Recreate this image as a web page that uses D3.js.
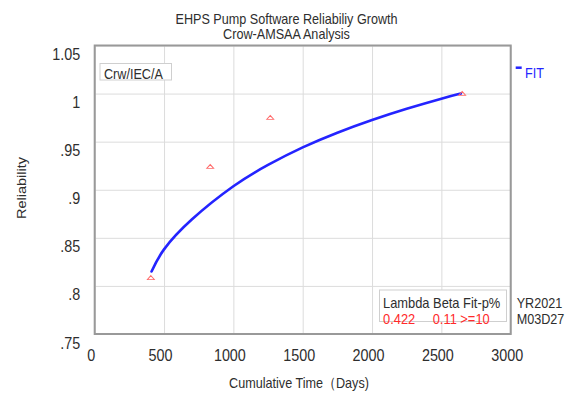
<!DOCTYPE html>
<html>
<head>
<meta charset="utf-8">
<script src="https://cdn.jsdelivr.net/npm/d3@7"></script>
<style>
  html, body { margin: 0; padding: 0; background: #fff; }
  svg { display: block; }
  text { font-family: "Liberation Sans", Arial, sans-serif; fill: #2e2e2e; }
</style>
</head>
<body>
<svg id="chart" width="574" height="395"></svg>
<script>
// ---- data ----
const titleLines = ["EHPS Pump Software Reliabiliy Growth", "Crow-AMSAA Analysis"];
const xTicks = [0, 500, 1000, 1500, 2000, 2500, 3000];
const xTickLabels = ["0", "500", "1000", "1500", "2000", "2500", "3000"];
const yTicks = [0.75, 0.8, 0.85, 0.9, 0.95, 1.0, 1.05];
const yTickLabels = [".75", ".8", ".85", ".9", ".95", "1", "1.05"];
const xTitle = "Cumulative Time（Days)";
const yTitle = "Reliability";
const fitTime = [410, 500, 700, 1000, 1250, 1500, 1750, 2000, 2250, 2500, 2640];
const fitRel  = [0.815, 0.838, 0.869, 0.9036, 0.9258, 0.944, 0.9593, 0.9725, 0.9842, 0.9947, 1.0];
const obsTime = [405, 833, 1266, 2650];
const obsRel  = [0.808, 0.9235, 0.9745, 0.9995];
const methodLabel = "Crw/IEC/A";
const legendLabel = "FIT";
const statHeader = "Lambda Beta Fit-p%";
const statValues = ["0.422", "0.11 >=10"];
const stampLines = ["YR2021", "M03D27"];

// ---- layout ----
const K = 0.87; // horizontal text compression
const L = 94.7, R = 510.7, T = 45.5, B = 334;
const svg = d3.select("#chart");
const x = d3.scaleLinear().domain([0, 3000]).range([L, R]);
const y = d3.scaleLinear().domain([0.75, 1.05]).range([B, T]);

function txt(g, px, py, s, size, anchor, color) {
  return g.append("text")
    .attr("transform", `translate(${px},${py}) scale(${K},1)`)
    .attr("text-anchor", anchor || "start")
    .style("font-size", size + "px")
    .style("fill", color || "#2e2e2e")
    .text(s);
}

// title
txt(svg, 286.5, 23.5, titleLines[0], 14.5, "middle");
txt(svg, 286.5, 38.5, titleLines[1], 14.5, "middle");

// gridlines
const grid = svg.append("g");
grid.append("g").attr("transform", `translate(0,${B})`)
  .call(d3.axisBottom(x).tickValues(xTicks).tickSize(-(B - T)).tickFormat(""))
  .call(g => g.select(".domain").remove())
  .call(g => g.selectAll("line").attr("stroke", "#dcdcdc").attr("stroke-width", 1));
grid.append("g").attr("transform", `translate(${L},0)`)
  .call(d3.axisLeft(y).tickValues(yTicks).tickSize(-(R - L)).tickFormat(""))
  .call(g => g.select(".domain").remove())
  .call(g => g.selectAll("line").attr("stroke", "#dcdcdc").attr("stroke-width", 1));

// axis tick labels
svg.append("g").attr("transform", `translate(0,${B})`)
  .call(d3.axisBottom(x).tickValues(xTicks).tickSize(0).tickFormat((d, i) => xTickLabels[i]))
  .call(g => g.select(".domain").remove())
  .call(g => g.selectAll("text")
    .attr("y", 0).attr("dy", null)
    .attr("transform", `translate(-4,27) scale(${K},1)`)
    .style("font-size", "16.5px").style("fill", "#2e2e2e").style("font-family", "'Liberation Sans', Arial, sans-serif"));
svg.append("g").attr("transform", `translate(${L},0)`)
  .call(d3.axisLeft(y).tickValues(yTicks).tickSize(0).tickFormat((d, i) => yTickLabels[i]))
  .call(g => g.select(".domain").remove())
  .call(g => g.selectAll("text")
    .attr("x", 0).attr("dy", null)
    .attr("transform", `translate(-14.5,14) scale(${K},1)`)
    .style("font-size", "16.5px").style("fill", "#2e2e2e").style("font-family", "'Liberation Sans', Arial, sans-serif"));

// axis titles
txt(svg, 299, 388, xTitle, 14.5, "middle");
svg.append("text")
  .attr("transform", `translate(25.5,188) rotate(-90) scale(1,${K})`)
  .attr("text-anchor", "middle")
  .style("font-size", "14.5px")
  .text(yTitle);

// frame
svg.append("rect").attr("x", L).attr("y", T).attr("width", R - L).attr("height", B - T)
  .attr("fill", "none").attr("stroke", "#999").attr("stroke-width", 2);

// method box
svg.append("rect").attr("x", 100).attr("y", 63.5).attr("width", 71.5).attr("height", 16.5)
  .attr("fill", "#fff").attr("stroke", "#cfcfcf").attr("stroke-width", 1);
txt(svg, 104, 79, methodLabel, 14.5, "start");

// fit curve
const fitData = fitTime.map((t, i) => [t, fitRel[i]]);
svg.append("path").datum(fitData)
  .attr("fill", "none").attr("stroke", "#2424ff").attr("stroke-width", 2.6)
  .attr("stroke-linecap", "round")
  .attr("d", d3.line().x(d => x(d[0])).y(d => y(d[1])).curve(d3.curveNatural));

// observed points (red triangles)
const tri = d3.symbol().type(d3.symbolTriangle).size(16);
svg.append("g").selectAll("path").data(obsTime.map((t, i) => [t, obsRel[i]])).join("path")
  .attr("transform", d => `translate(${x(d[0])},${y(d[1])}) scale(1.15,0.75)`)
  .attr("d", tri)
  .attr("fill", "none").attr("stroke", "#ff6a6a").attr("stroke-width", 1);

// legend
svg.append("line").attr("x1", 515.7).attr("x2", 521.7).attr("y1", 67.7).attr("y2", 67.7)
  .attr("stroke", "#2424ff").attr("stroke-width", 2.5);
txt(svg, 525, 77.5, legendLabel, 14.5, "start", "#2424ff");

// stats box
svg.append("rect").attr("x", 379.5).attr("y", 290).attr("width", 127).attr("height", 31.5)
  .attr("fill", "#fff").attr("stroke", "#cfcfcf").attr("stroke-width", 1);
txt(svg, 383, 308, statHeader, 14.8, "start");
txt(svg, 383, 323.5, statValues[0], 14.8, "start", "#ff2a2a");
txt(svg, 432.7, 323.5, statValues[1], 14.8, "start", "#ff2a2a");

// stamp
txt(svg, 516.7, 308, stampLines[0], 14.5, "start");
txt(svg, 516.7, 323.5, stampLines[1], 14.5, "start");
</script>
</body>
</html>
